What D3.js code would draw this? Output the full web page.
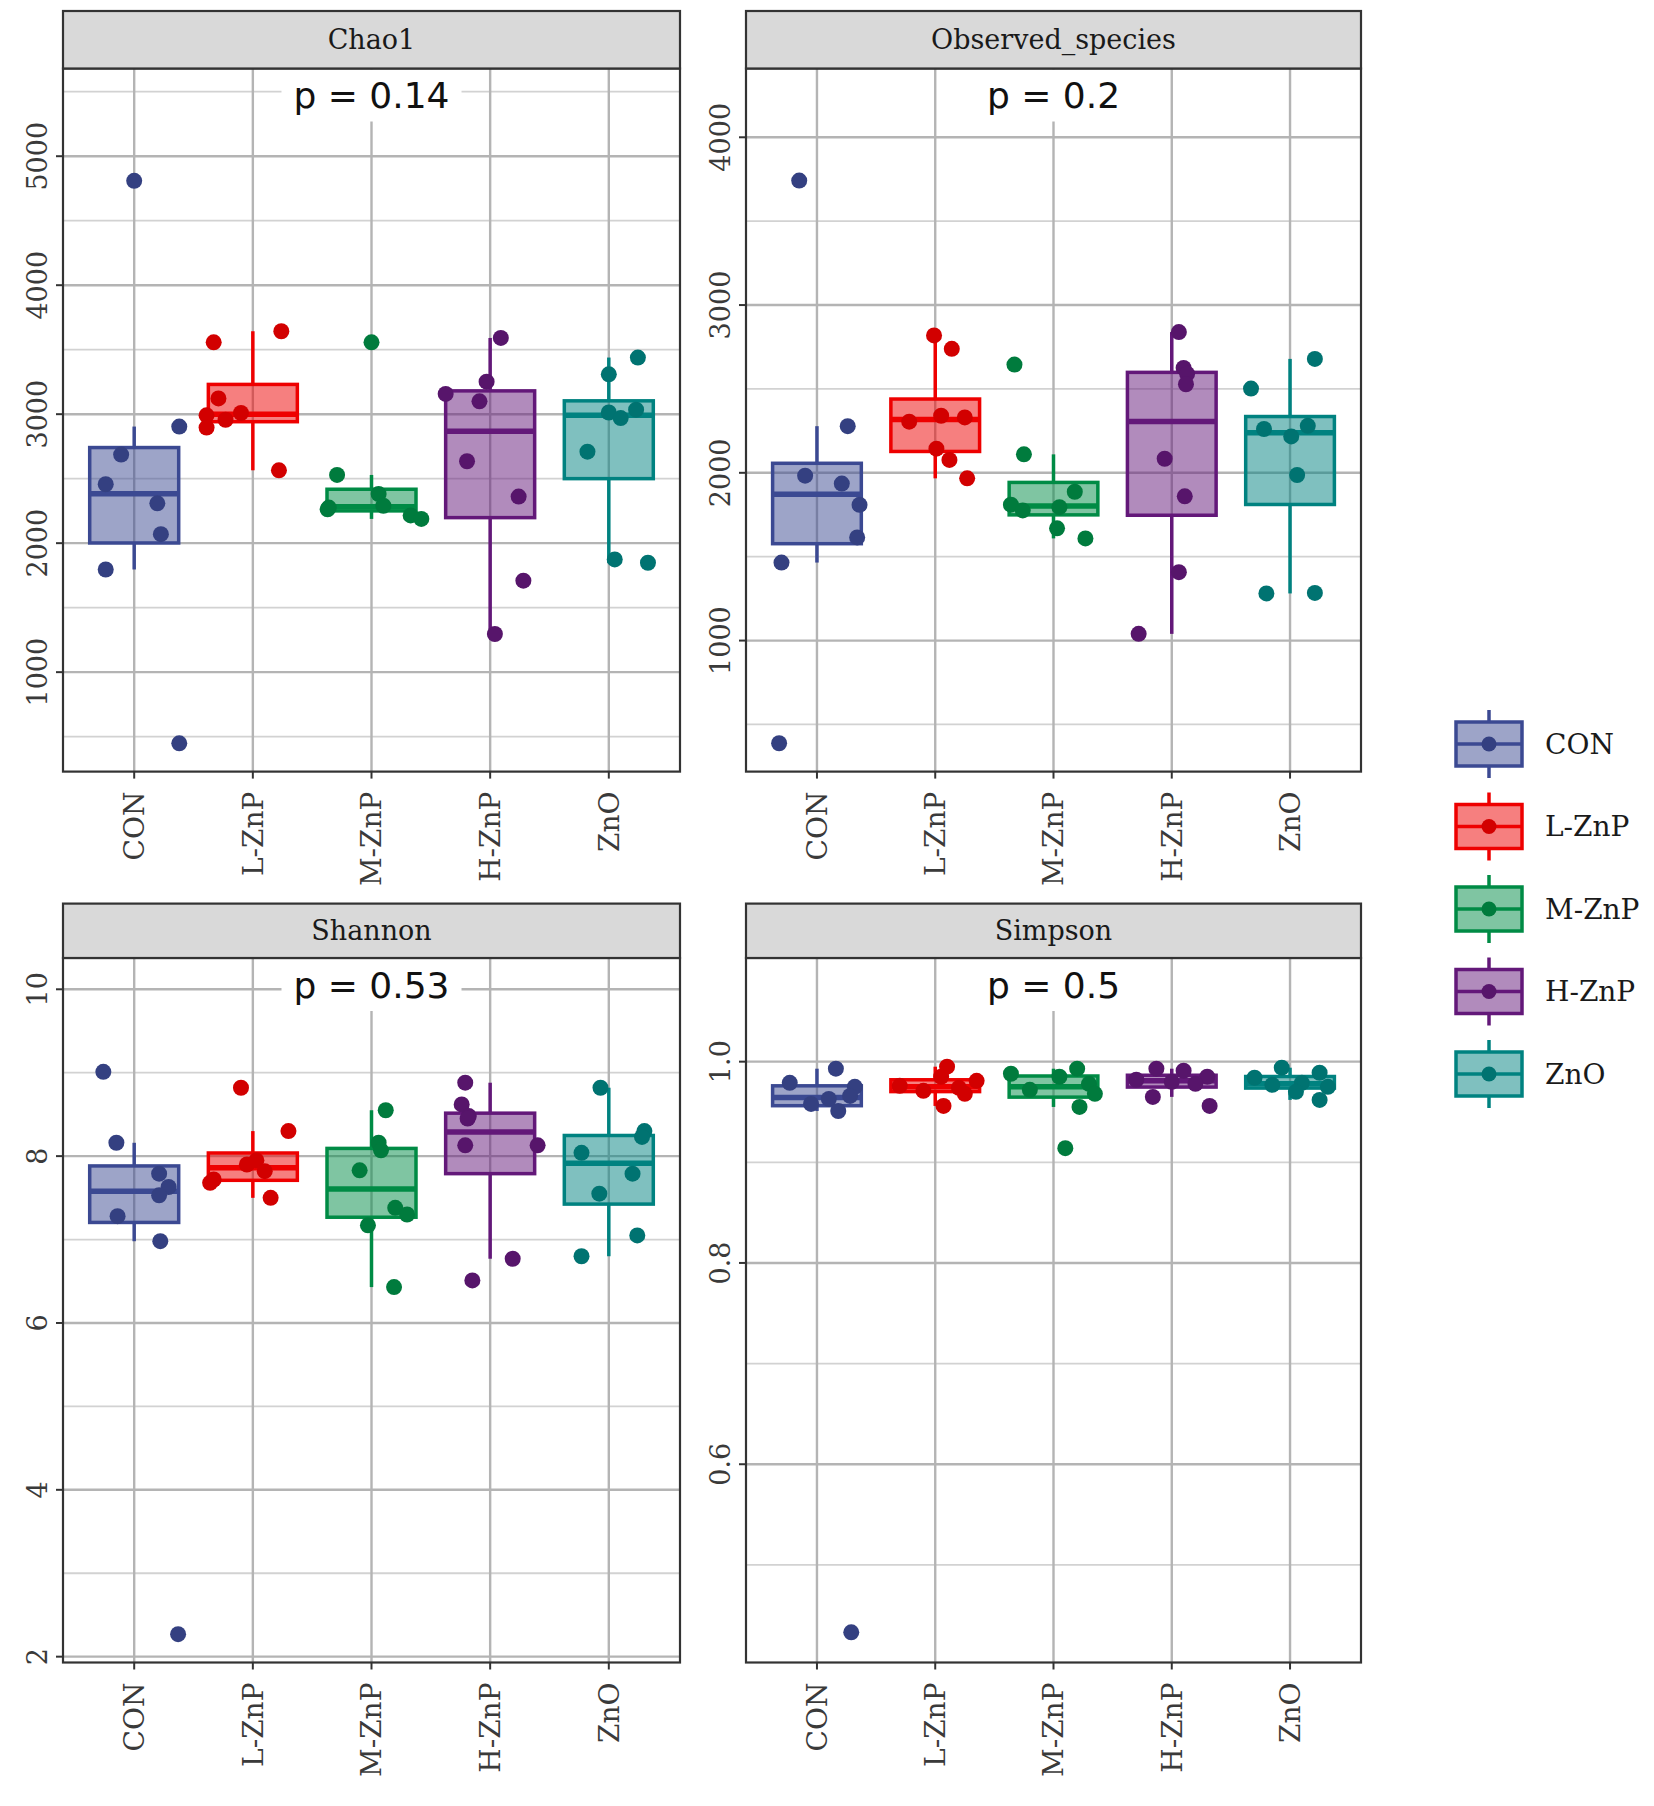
<!DOCTYPE html>
<html>
<head>
<meta charset="utf-8">
<script src="https://cdn.jsdelivr.net/npm/d3@7"></script>
<style>
  body { margin: 0; background: #fff; }
  svg { display: block; }
</style>
</head>
<body>
<div id="chart"></div>
<script>
// groups and colours (ggsci AAAS)
var groups = ["CON", "L-ZnP", "M-ZnP", "H-ZnP", "ZnO"]
var groupColors = ["#3B4992", "#EE0000", "#008B45", "#631879", "#008280"]

// per-sample values, one inner array per group; jitter = horizontal offset in category units
var chao1Values = [
  [4809, 2904, 2687, 2457, 2309, 2070, 1796, 448],
  [3557, 3643, 3122, 3009, 2991, 2957, 2896, 2565],
  [3557, 2529, 2381, 2290, 2276, 2262, 2215, 2188],
  [3591, 3252, 3157, 3100, 2635, 2361, 1709, 1296],
  [3439, 3309, 3035, 3013, 2970, 2709, 1874, 1848]
]
var chao1Jitter = [
  [0.0, 0.38, -0.11, -0.24, 0.195, 0.225, -0.24, 0.38],
  [-0.33, 0.24, -0.29, -0.1, -0.39, -0.23, -0.39, 0.22],
  [0.0, -0.29, 0.06, 0.1, -0.36, -0.37, 0.33, 0.42],
  [0.09, -0.03, -0.375, -0.09, -0.195, 0.24, 0.28, 0.04],
  [0.245, 0.0, 0.23, 0.0, 0.1, -0.18, 0.05, 0.33]
]

var observedValues = [
  [3742, 2278, 1983, 1936, 1809, 1615, 1465, 388],
  [2819, 2739, 2340, 2330, 2305, 2144, 2077, 1967],
  [2645, 2110, 1887, 1810, 1795, 1776, 1669, 1609],
  [2839, 2625, 2590, 2528, 2084, 1860, 1408, 1040],
  [2679, 2502, 2280, 2261, 2217, 1987, 1284, 1281]
]
var observedJitter = [
  [-0.15, 0.26, -0.10, 0.21, 0.36, 0.34, -0.30, -0.32],
  [-0.01, 0.14, 0.05, 0.25, -0.22, 0.01, 0.12, 0.27],
  [-0.33, -0.25, 0.18, -0.36, 0.05, -0.26, 0.03, 0.27],
  [0.06, 0.10, 0.13, 0.12, -0.06, 0.11, 0.06, -0.28],
  [0.21, -0.33, 0.15, -0.22, 0.01, 0.06, 0.21, -0.20]
]

var shannonValues = [
  [9.01, 8.16, 7.79, 7.63, 7.53, 7.28, 6.98, 2.27],
  [8.82, 8.30, 7.95, 7.90, 7.82, 7.72, 7.68, 7.50],
  [8.55, 8.16, 8.07, 7.83, 7.38, 7.30, 7.17, 6.43],
  [8.88, 8.62, 8.48, 8.45, 8.13, 8.13, 6.77, 6.51],
  [8.82, 8.30, 8.23, 8.04, 7.79, 7.55, 7.05, 6.80]
]
var shannonJitter = [
  [-0.26, -0.15, 0.21, 0.29, 0.21, -0.14, 0.22, 0.37],
  [-0.10, 0.30, 0.03, -0.05, 0.10, -0.33, -0.36, 0.15],
  [0.12, 0.06, 0.08, -0.10, 0.20, 0.30, -0.03, 0.19],
  [-0.21, -0.24, -0.18, -0.19, -0.21, 0.40, 0.19, -0.15],
  [-0.07, 0.30, 0.28, -0.23, 0.20, -0.08, 0.24, -0.23]
]

var simpsonValues = [
  [0.993, 0.979, 0.975, 0.966, 0.963, 0.958, 0.951, 0.433],
  [0.995, 0.985, 0.981, 0.976, 0.974, 0.971, 0.968, 0.956],
  [0.993, 0.988, 0.985, 0.978, 0.972, 0.968, 0.955, 0.914],
  [0.993, 0.991, 0.985, 0.982, 0.980, 0.978, 0.965, 0.956],
  [0.994, 0.989, 0.984, 0.979, 0.977, 0.975, 0.970, 0.962]
]
var simpsonJitter = [
  [0.16, -0.23, 0.32, 0.28, 0.1, -0.05, 0.18, 0.29],
  [0.1, 0.05, 0.35, -0.3, 0.2, -0.1, 0.25, 0.07],
  [0.2, -0.36, 0.05, 0.3, -0.2, 0.35, 0.22, 0.1],
  [-0.13, 0.1, 0.3, -0.3, 0.0, 0.2, -0.16, 0.32],
  [-0.07, 0.25, -0.3, 0.1, -0.15, 0.32, 0.05, 0.25]
]

var panelTitles = ["Chao1", "Observed_species", "Shannon", "Simpson"]
var pLabels = ["p = 0.14", "p = 0.2", "p = 0.53", "p = 0.5"]
var yDomains = [[229, 5680], [219, 4410], [1.93, 10.375], [0.403, 1.103]]
var yTicks = [[1000, 2000, 3000, 4000, 5000], [1000, 2000, 3000, 4000], [2, 4, 6, 8, 10], [0.6, 0.8, 1.0]]
var yMinor = [[500, 1500, 2500, 3500, 4500, 5500], [500, 1500, 2500, 3500], [3, 5, 7, 9], [0.5, 0.7, 0.9]]
var yFormats = ["d", "d", "d", ".1f"]

var panels = [
  {values: chao1Values, jitter: chao1Jitter},
  {values: observedValues, jitter: observedJitter},
  {values: shannonValues, jitter: shannonJitter},
  {values: simpsonValues, jitter: simpsonJitter}
]

var cols = [{x0: 63, x1: 680}, {x0: 746, x1: 1361}]
var rows = [{stripTop: 11, top: 68.5, bottom: 771.6}, {stripTop: 903.6, top: 958, bottom: 1662.5}]

var serif = "'DejaVu Serif', serif"
var svg = d3.select("#chart").append("svg").attr("width", 1654).attr("height", 1806)

svg.append("rect").attr("width", 1654).attr("height", 1806).attr("fill", "#fff")

function boxStats(vals) {
  var s = vals.slice().sort(d3.ascending)
  var q1 = d3.quantile(s, 0.25), med = d3.quantile(s, 0.5), q3 = d3.quantile(s, 0.75)
  var iqr = q3 - q1
  var lo = d3.min(s.filter(v => v >= q1 - 1.5 * iqr))
  var hi = d3.max(s.filter(v => v <= q3 + 1.5 * iqr))
  return {q1: q1, med: med, q3: q3, lo: lo, hi: hi}
}

panels.forEach((p, i) => {
  var c = cols[i % 2], r = rows[Math.floor(i / 2)]
  var x = d3.scalePoint().domain(groups).range([c.x0, c.x1]).padding(0.6)
  var y = d3.scaleLinear().domain(yDomains[i]).range([r.bottom, r.top])
  var step = x.step()
  var g = svg.append("g")

  // grid
  g.selectAll(".minor").data(yMinor[i].filter(v => y(v) > r.top + 5 && y(v) < r.bottom - 2)).enter()
    .append("line").attr("x1", c.x0).attr("x2", c.x1).attr("y1", d => y(d)).attr("y2", d => y(d))
    .attr("stroke", "#d2d2d2").attr("stroke-width", 1.8)
  g.selectAll(".major").data(yTicks[i]).enter()
    .append("line").attr("x1", c.x0).attr("x2", c.x1).attr("y1", d => y(d)).attr("y2", d => y(d))
    .attr("stroke", "#b4b4b4").attr("stroke-width", 2.4)
  g.selectAll(".vmajor").data(groups).enter()
    .append("line").attr("x1", d => x(d)).attr("x2", d => x(d)).attr("y1", r.top).attr("y2", r.bottom)
    .attr("stroke", "#b4b4b4").attr("stroke-width", 2.4)

  // p-value label with white background
  var mid = (c.x0 + c.x1) / 2
  g.append("rect").attr("x", mid - 90).attr("y", r.top + 1).attr("width", 180).attr("height", 52).attr("fill", "#fff")
  g.append("text").attr("x", mid).attr("y", r.top + 27).attr("dy", "0.35em")
    .attr("text-anchor", "middle").attr("font-family", "'DejaVu Sans', sans-serif").attr("font-size", 36)
    .attr("fill", "#111").text(pLabels[i])

  // boxes
  groups.forEach((grp, k) => {
    var st = boxStats(p.values[k])
    var cx = x(grp), bw = 0.75 * step, col = groupColors[k]
    var bg = g.append("g")
    bg.append("line").attr("x1", cx).attr("x2", cx).attr("y1", y(st.q3)).attr("y2", y(st.hi))
      .attr("stroke", col).attr("stroke-width", 3.5)
    bg.append("line").attr("x1", cx).attr("x2", cx).attr("y1", y(st.q1)).attr("y2", y(st.lo))
      .attr("stroke", col).attr("stroke-width", 3.5)
    bg.append("rect").attr("x", cx - bw / 2).attr("width", bw)
      .attr("y", y(st.q3)).attr("height", Math.max(1, y(st.q1) - y(st.q3)))
      .attr("fill", col).attr("fill-opacity", 0.5).attr("stroke", col).attr("stroke-width", 3.5)
    bg.append("line").attr("x1", cx - bw / 2).attr("x2", cx + bw / 2).attr("y1", y(st.med)).attr("y2", y(st.med))
      .attr("stroke", col).attr("stroke-width", 5.5)
    bg.selectAll("circle").data(p.values[k]).enter().append("circle")
      .attr("cx", (d, j) => cx + p.jitter[k][j] * step)
      .attr("cy", d => y(d)).attr("r", 8).attr("fill", d3.color(col).darker(0.35))
  })

  // panel border
  g.append("rect").attr("x", c.x0).attr("y", r.top).attr("width", c.x1 - c.x0).attr("height", r.bottom - r.top)
    .attr("fill", "none").attr("stroke", "#333").attr("stroke-width", 2.2)

  // strip
  g.append("rect").attr("x", c.x0).attr("y", r.stripTop).attr("width", c.x1 - c.x0).attr("height", r.top - r.stripTop)
    .attr("fill", "#d9d9d9").attr("stroke", "#333").attr("stroke-width", 2.2)
  g.append("text").attr("x", mid).attr("y", (r.stripTop + r.top) / 2).attr("dy", "0.35em")
    .attr("text-anchor", "middle").attr("font-family", serif).attr("font-size", 27).attr("fill", "#1a1a1a")
    .text(panelTitles[i])

  // y axis
  var fmt = d3.format(yFormats[i])
  g.selectAll(".ytick").data(yTicks[i]).enter().append("line")
    .attr("x1", c.x0 - 7).attr("x2", c.x0).attr("y1", d => y(d)).attr("y2", d => y(d))
    .attr("stroke", "#333").attr("stroke-width", 2)
  g.selectAll(".ylab").data(yTicks[i]).enter().append("text")
    .attr("transform", d => `translate(${c.x0 - 16},${y(d)}) rotate(-90)`)
    .attr("text-anchor", "middle").attr("font-family", serif).attr("font-size", 27).attr("fill", "#3a3a3a")
    .text(d => fmt(d))

  // x axis
  g.selectAll(".xtick").data(groups).enter().append("line")
    .attr("x1", d => x(d)).attr("x2", d => x(d)).attr("y1", r.bottom).attr("y2", r.bottom + 7)
    .attr("stroke", "#333").attr("stroke-width", 2)
  g.selectAll(".xlab").data(groups).enter().append("text")
    .attr("transform", d => `translate(${x(d)},${r.bottom + 20}) rotate(-90)`)
    .attr("dy", "0.35em").attr("text-anchor", "end").attr("font-family", serif).attr("font-size", 28)
    .attr("fill", "#3a3a3a").text(d => d)
})

// legend
var legendY = d3.scalePoint().domain(groups).range([744, 1074])
var lg = svg.append("g")
groups.forEach((grp, k) => {
  var cy = legendY(grp), cx = 1489, col = groupColors[k]
  lg.append("line").attr("x1", cx).attr("x2", cx).attr("y1", cy - 34).attr("y2", cy + 34)
    .attr("stroke", col).attr("stroke-width", 3.5)
  lg.append("rect").attr("x", cx - 33).attr("y", cy - 22).attr("width", 66).attr("height", 44)
    .attr("fill", "#fff")
  lg.append("rect").attr("x", cx - 33).attr("y", cy - 22).attr("width", 66).attr("height", 44)
    .attr("fill", col).attr("fill-opacity", 0.5).attr("stroke", col).attr("stroke-width", 3.5)
  lg.append("line").attr("x1", cx - 33).attr("x2", cx + 33).attr("y1", cy).attr("y2", cy)
    .attr("stroke", col).attr("stroke-width", 3.5)
  lg.append("circle").attr("cx", cx).attr("cy", cy).attr("r", 7.5).attr("fill", d3.color(col).darker(0.35))
  lg.append("text").attr("x", 1545).attr("y", cy).attr("dy", "0.35em")
    .attr("font-family", serif).attr("font-size", 28).attr("fill", "#1a1a1a").text(grp)
})
</script>
</body>
</html>
